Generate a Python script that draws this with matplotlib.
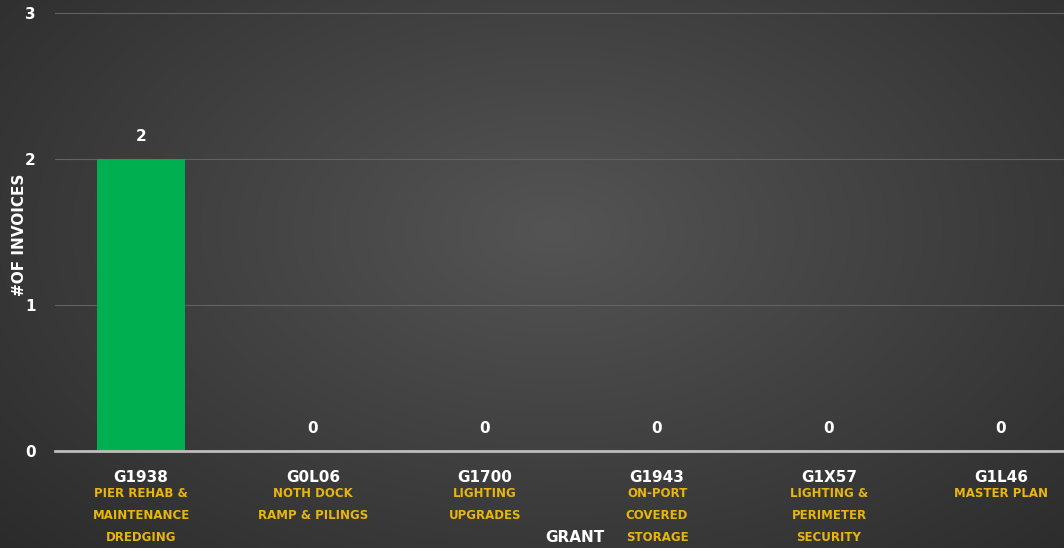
import numpy as np
import matplotlib.pyplot as plt
import matplotlib.transforms as mtransforms

grants = ['G1938', 'G0L06', 'G1700', 'G1943', 'G1X57', 'G1L46']
projects = ['PIER REHAB &\nMAINTENANCE\nDREDGING', 'NOTH DOCK\nRAMP & PILINGS',
            'LIGHTING\nUPGRADES', 'ON-PORT\nCOVERED\nSTORAGE',
            'LIGHTING &\nPERIMETER\nSECURITY', 'MASTER PLAN']
invoices = [2, 0, 0, 0, 0, 0]

W, H = 1064, 548
fig = plt.figure(figsize=(W / 100, H / 100), dpi=100)

# radial dark gradient background
bg = fig.add_axes([0, 0, 1, 1])
yy, xx = np.mgrid[0:1:300j, 0:1:600j]
r = np.sqrt(((xx - 0.52) / 0.75) ** 2 + ((yy - 0.58) / 0.9) ** 2)
v = np.clip(0.33 - 0.17 * r, 0.15, 0.33)
bg.imshow(np.dstack([v, v, v]), extent=[0, 1, 0, 1], aspect='auto', origin='lower')
bg.set_axis_off()

left = 55 / W
bottom = (H - 451) / H
ax = fig.add_axes([left, bottom, 1 - left, 1 - bottom])
ax.set_facecolor('none')

x = np.arange(len(grants))
ax.bar(x, invoices, width=0.51, color='#00b050', zorder=3)

span = 172  # pixels per category
ax.set_xlim(-0.5, -0.5 + (W - 55) / span)
ax.set_ylim(0, 3 * (451 / 438))
ax.set_yticks([0, 1, 2, 3])
ax.set_yticklabels(['0', '1', '2', '3'], color='white', fontweight='bold', fontsize=11)
ax.grid(axis='y', color='#626262', linewidth=0.8, zorder=0)
ax.set_axisbelow(True)
ax.tick_params(axis='y', length=0, pad=14)
for s in ['top', 'right', 'left']:
    ax.spines[s].set_visible(False)
ax.spines['bottom'].set_color('#bdbdbd')
ax.spines['bottom'].set_linewidth(2)
ax.spines['bottom'].set_zorder(4)

ax.set_xticks(x)
ax.set_xticklabels(grants, color='white', fontweight='bold', fontsize=11)
ax.tick_params(axis='x', length=0, pad=14)

# value labels
for xi, val in zip(x, invoices):
    ax.annotate(str(val), (xi, val), xytext=(0, 16.5), textcoords='offset points',
                ha='center', va='center', color='white', fontweight='bold', fontsize=11)

# project names under grant codes
trans = mtransforms.blended_transform_factory(ax.transData, fig.transFigure)
for xi, name in zip(x, projects):
    ax.text(xi, (H - 487) / H, name, transform=trans, ha='center', va='top',
            color='#e8b511', fontweight='bold', fontsize=8.5, linespacing=1.9,
            clip_on=False)

fig.text(575 / W, (H - 538) / H, 'GRANT', ha='center', va='center', color='white',
         fontweight='bold', fontsize=11)
fig.text(20 / W, (H - 235) / H, '#OF INVOICES', ha='center', va='center', rotation=90,
         color='white', fontweight='bold', fontsize=11)

fig.savefig('out.png', dpi=100)
